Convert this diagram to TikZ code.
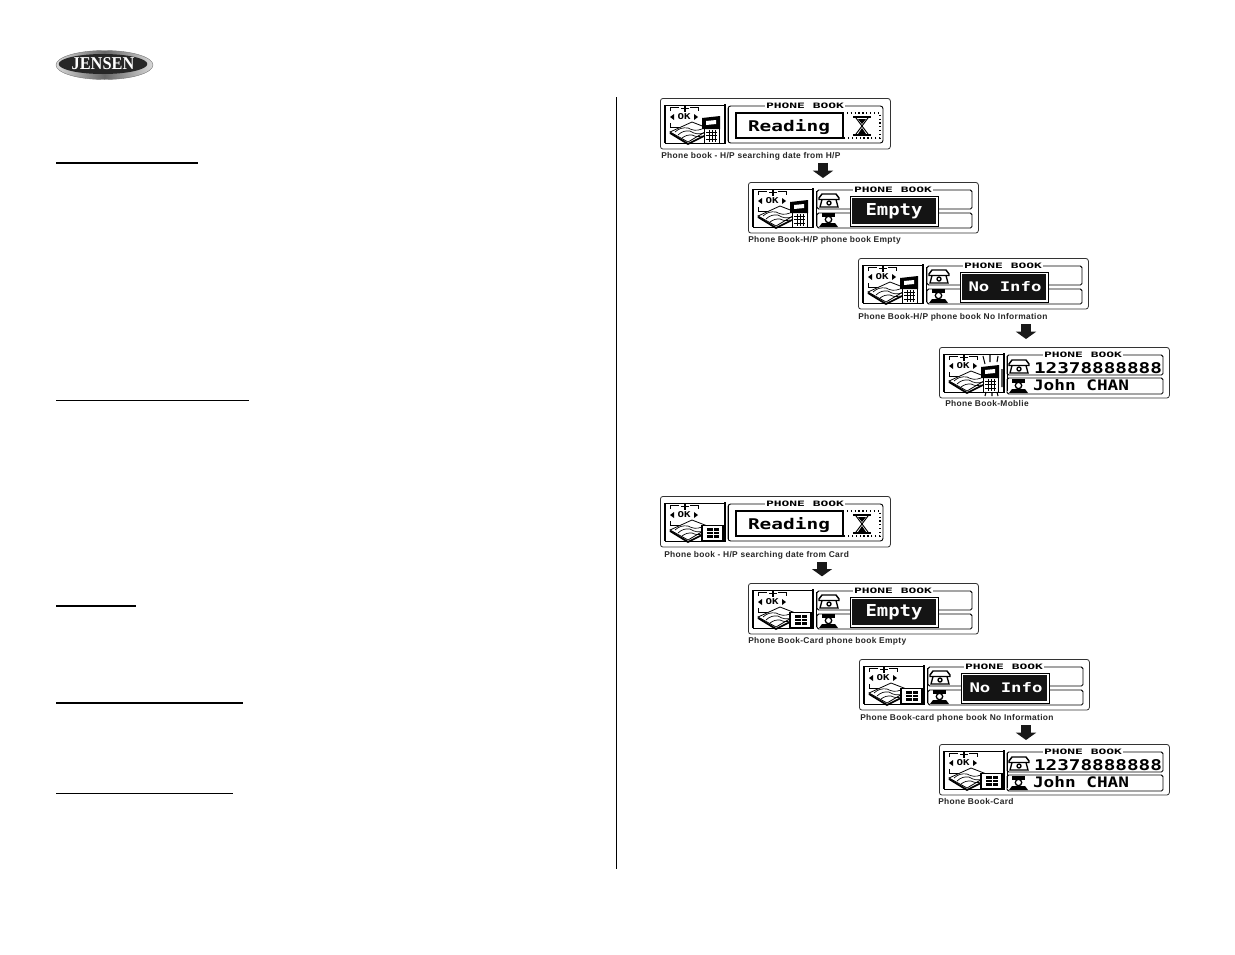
\documentclass[tikz,border=0pt]{standalone}
\usepackage{fontspec}
\usepackage{tikz}
\usetikzlibrary{arrows.meta,shapes.geometric}
\setmainfont{Liberation Sans}
\newfontfamily\capfont{Liberation Sans}[LetterSpace=4]
\newfontfamily\lcdfont{DejaVu Sans Mono}
\newfontfamily\logofont{Liberation Serif}
\newlength\pxlen
\setlength\pxlen{0.75pt}
\newcommand{\lcdtext}[3]{\resizebox{#1\pxlen}{#2\pxlen}{\lcdfont\bfseries #3}}
\tikzstyle{lcdpanel} = [rectangle, rounded corners=2pt, minimum width=172.5pt, minimum height=38pt, draw=black!80, line width=0.6pt, fill=white, inner sep=0pt]
\tikzstyle{caption} = [anchor=west, inner sep=0pt, font=\capfont\bfseries\fontsize{6.3}{7}\selectfont, text=black!85]
\tikzstyle{flow} = [line width=7.5pt, -{Triangle[length=5.5pt,width=15pt]}, color=black!90]
\tikzstyle{rule} = [line width=1pt, color=black]
\tikzstyle{lcdbox} = [rounded corners=1.2pt, line width=0.7pt, color=black]
\tikzstyle{title} = [fill=white, inner sep=1pt]
\tikzset{
  % left part of every screen
  menuicon/.pic={
    \draw[line width=1.2pt] (5,45)--(5,7);
    \draw[line width=0.5pt] (5,7)--(65,7) (5,45)--(65,45);
    \draw[line width=1.2pt] (65,6)--(65,46);
    \draw[line width=0.5pt] (68,9)--(68,44);
    \draw[line width=0.7pt] (10,13)--(10,9)--(19,9) (30,9)--(38,9)--(38,13) (10,25)--(10,29)--(24,29);
    \draw[line width=0.9pt] (21,10.5)--(29,10.5) (25,7.5)--(25,13.5);
    \fill (10,19)--(14,16)--(14,22)--cycle (38,19)--(34,16)--(34,22)--cycle;
    \node (oktext) at (24,19) {\lcdtext{13}{6}{OK}};
    \draw[fill=white, line width=0.6pt] (10,34)--(32,24)--(50,31)--(28,44)--cycle;
    \draw[line width=0.5pt] (15,34) to[bend left=25] (28,30) to[bend right=25] (42,31) (18,37) to[bend left=25] (30,33) to[bend right=25] (44,35) (22,40) to[bend left=20] (32,37) to[bend right=20] (42,38);
    \draw[line width=1.3pt] (10,35)--(28,46)--(44,38);
  },
  phoneicon/.pic={
    \draw[fill=white, line width=0.6pt] (44,29) rectangle (59,45);
    \draw[line width=0.4pt] (46,34)--(57,34) (46,37.5)--(57,37.5) (46,41)--(57,41) (49,32)--(49,44) (52,32)--(52,44) (55,32)--(55,44);
    \fill (42,20)--(60,18)--(60,31)--(42,31)--cycle;
    \fill[white] (46,23)--(56,22)--(56,26)--(46,27)--cycle;
  },
  cardicon/.pic={
    \draw[fill=white, line width=1pt] (42,29.5) rectangle (63,44.5);
    \fill (47,32) rectangle (59,42);
    \draw[white, line width=0.6pt] (47,35.5)--(59,35.5) (47,38.5)--(59,38.5) (53,32)--(53,42);
  },
  rayicon/.pic={
    \draw[line width=0.8pt] (44,9)--(46,17) (51,8)--(51,15) (59,9)--(58,15) (63,22)--(63,40) (47,45)--(46,49) (53,45)--(53,49) (58,45)--(59,49);
  },
  telicon/.pic={
    \draw[line width=1.1pt, fill=white] (0,4)--(3,0)--(17,0)--(20,4)--(20,5.5)--(0,5.5)--cycle;
    \draw[line width=1pt] (3,5.5)--(1,13)--(19,13)--(17,5.5);
    \draw[line width=1pt] (10,9) circle (2);
  },
  manicon/.pic={
    \fill (3,0) rectangle (16,3.5);
    \draw[line width=1pt] (9.5,6.5) circle (3.2);
    \fill (0,14)--(3,10)--(16,10)--(19,14)--cycle;
  },
  % screen with the black message
  messagescreen/.pic={
    \draw[lcdbox] (69,8) rectangle (224,27);
    \draw[lcdbox] (69,31) rectangle (224,46);
    \pic at (71,12) {telicon};
    \pic at (71,31) {manicon};
    \draw[line width=0.5pt, fill=white] (102,14) rectangle (190,44);
    \fill[black!92] (104,16) rectangle (188,42);
    \node[title] (booktitle) at (145,8) {\lcdtext{78}{5.5}{PHONE BOOK}};
  },
  % screen with number and name
  numberscreen/.pic={
    \draw[lcdbox] (68,8) rectangle (224,28);
    \draw[lcdbox] (68,31) rectangle (224,47);
    \pic at (70,13) {telicon};
    \pic at (70,32) {manicon};
    \node[title] (booktitle) at (144,7.5) {\lcdtext{78}{5.5}{PHONE BOOK}};
    \node[inner sep=0pt] (numtext) at (159,21) {\lcdtext{128}{11}{12378888888}};
    \node[inner sep=0pt] (nametext) at (142,38) {\lcdtext{96}{11}{John CHAN}};
  },
  % screen with the hourglass
  readscreen/.pic={
    \draw[lcdbox, rounded corners=2pt] (68,8) rectangle (223,45);
    \node[title] (booktitle) at (145,8) {\lcdtext{78}{5.5}{PHONE BOOK}};
    \draw[line width=1.1pt, fill=white] (76,15) rectangle (183,40);
    \draw[line width=0.9pt, dotted] (183,15)--(220,15)--(220,40)--(183,40);
    \node[inner sep=0pt] (readtext) at (129,29) {\lcdtext{82}{12}{Reading}};
    \draw[line width=1pt] (193,19)--(211,19) (193,37)--(211,37);
    \draw[line width=0.7pt] (196,20)--(208,36) (208,20)--(196,36);
    \fill (202,30)--(198,36)--(206,36)--cycle (198,21)--(206,21)--(202,26)--cycle;
  }
}
\begin{document}
\begin{tikzpicture}[x=0.75pt, y=-0.75pt]
\useasboundingbox (0,0) rectangle (1235,954);
% Logo
\node (logo) [ellipse, minimum width=72.75pt, minimum height=21.75pt, inner sep=0pt, draw=black!55, line width=0.3pt, left color=black!15, right color=black!15, middle color=black!60] at (104.5,65) {};
\node (logoinner) [ellipse, minimum width=60pt, minimum height=15pt, inner sep=0pt, fill=black!85, text=white] at (103,64) {\resizebox{47pt}{9pt}{\logofont\bfseries JENSEN}};

% Left column
\draw[rule] (56,163) -- (198,163);
\draw[rule] (56,400.5) -- (249,400.5);
\draw[rule] (56,606) -- (136,606);
\draw[rule] (56,703) -- (243,703);
\draw[rule] (56,793.5) -- (233,793.5);
\draw[rule] (616.5,97) -- (616.5,869);

% Mobile screens
\node (panelone) [lcdpanel, anchor=north west] at (660,98) {};
\pic at (panelone.north west) {menuicon};
\pic at (panelone.north west) {phoneicon};
\pic at (panelone.north west) {readscreen};
\node (capone) [caption] at (661,156) {Phone book - H/P searching date from H/P};

\node (paneltwo) [lcdpanel, anchor=north west] at (748,182) {};
\pic at (paneltwo.north west) {menuicon};
\pic at (paneltwo.north west) {phoneicon};
\pic at (paneltwo.north west) {messagescreen};
\node (emptyone) [inner sep=0pt, text=white] at (894,211.5) {\lcdtext{57}{12}{Empty}};
\node (captwo) [caption] at (748,240.5) {Phone Book-H/P phone book Empty};

\node (panelthree) [lcdpanel, anchor=north west] at (858,258) {};
\pic at (panelthree.north west) {menuicon};
\pic at (panelthree.north west) {phoneicon};
\pic at (panelthree.north west) {messagescreen};
\node (infoone) [inner sep=0pt, text=white] at (1005,286.5) {\lcdtext{73}{10}{No Info}};
\node (capthree) [caption] at (858,317.5) {Phone Book-H/P phone book No Information};

\node (panelfour) [lcdpanel, anchor=north west] at (939,347) {};
\pic at (panelfour.north west) {menuicon};
\pic at (panelfour.north west) {phoneicon};
\pic at (panelfour.north west) {rayicon};
\pic at (panelfour.north west) {numberscreen};
\node (capfour) [caption] at (945,403.5) {Phone Book-Moblie};

% Card screens
\node (panelfive) [lcdpanel, anchor=north west] at (660,496) {};
\pic at (panelfive.north west) {menuicon};
\pic at (panelfive.north west) {cardicon};
\pic at (panelfive.north west) {readscreen};
\node (capfive) [caption] at (664,555.5) {Phone book - H/P searching date from Card};

\node (panelsix) [lcdpanel, anchor=north west] at (748,583) {};
\pic at (panelsix.north west) {menuicon};
\pic at (panelsix.north west) {cardicon};
\pic at (panelsix.north west) {messagescreen};
\node (emptytwo) [inner sep=0pt, text=white] at (894,612.5) {\lcdtext{57}{12}{Empty}};
\node (capsix) [caption] at (748,641.5) {Phone Book-Card phone book Empty};

\node (panelseven) [lcdpanel, anchor=north west] at (859,659) {};
\pic at (panelseven.north west) {menuicon};
\pic at (panelseven.north west) {cardicon};
\pic at (panelseven.north west) {messagescreen};
\node (infotwo) [inner sep=0pt, text=white] at (1006,687.5) {\lcdtext{73}{10}{No Info}};
\node (capseven) [caption] at (860,718.5) {Phone Book-card phone book No Information};

\node (paneleight) [lcdpanel, anchor=north west] at (939,744) {};
\pic at (paneleight.north west) {menuicon};
\pic at (paneleight.north west) {cardicon};
\pic at (paneleight.north west) {numberscreen};
\node (capeight) [caption] at (938,801.5) {Phone Book-Card};

% Arrows
\coordinate (flowone) at (823,170);
\coordinate (flowtwo) at (1026,332);
\coordinate (flowthree) at (822,569);
\coordinate (flowfour) at (1026,732);
\draw[flow, shorten <=2pt, shorten >=3pt] (capone.south -| flowone) -- (paneltwo.north -| flowone);
\draw[flow, shorten <=2pt, shorten >=6pt] (capthree.south -| flowtwo) -- (panelfour.north -| flowtwo);
\draw[flow, shorten <=2pt, shorten >=5pt] (capfive.south -| flowthree) -- (panelsix.north -| flowthree);
\draw[flow, shorten <=2pt, shorten >=3pt] (capseven.south -| flowfour) -- (paneleight.north -| flowfour);
\end{tikzpicture}
\end{document}
